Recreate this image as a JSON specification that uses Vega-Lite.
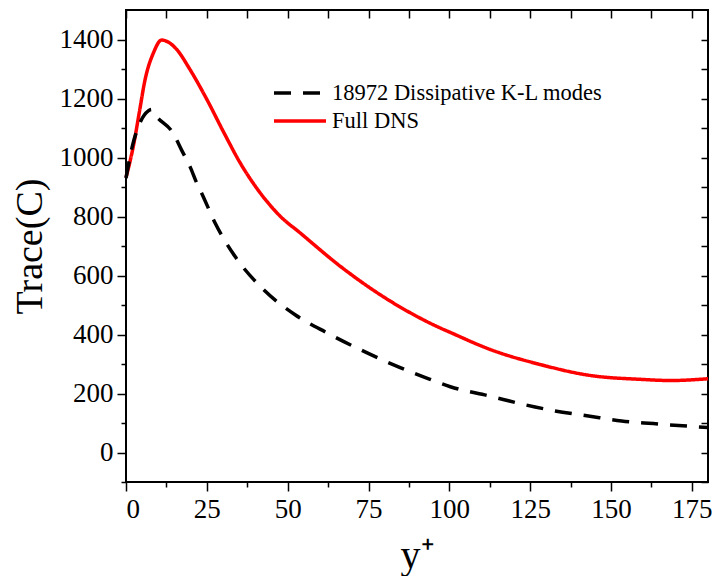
{
  "$schema": "https://vega.github.io/schema/vega-lite/v6.json",
  "width": 582,
  "height": 472,
  "autosize": {"type": "none"},
  "padding": {"left": 126, "top": 10, "right": 4, "bottom": 94},
  "background": "white",
  "config": {
    "view": {"stroke": "black", "strokeWidth": 2},
    "font": "Liberation Serif",
    "axis": {
      "grid": false,
      "domain": false,
      "labelFont": "Liberation Serif",
      "titleFont": "Liberation Serif",
      "labelColor": "black",
      "titleColor": "black",
      "tickColor": "black",
      "tickWidth": 1.5,
      "titleFontWeight": "normal"
    }
  },
  "data": {
    "values": [
      {"series": "Full DNS", "yplus": 0, "trace": 932},
      {"series": "Full DNS", "yplus": 2.3, "trace": 1040},
      {"series": "Full DNS", "yplus": 4.1, "trace": 1152},
      {"series": "Full DNS", "yplus": 5.9, "trace": 1264},
      {"series": "Full DNS", "yplus": 8.5, "trace": 1355},
      {"series": "Full DNS", "yplus": 11, "trace": 1398},
      {"series": "Full DNS", "yplus": 13.1, "trace": 1391},
      {"series": "Full DNS", "yplus": 15.7, "trace": 1366},
      {"series": "Full DNS", "yplus": 19.8, "trace": 1298},
      {"series": "Full DNS", "yplus": 25, "trace": 1197},
      {"series": "Full DNS", "yplus": 30.1, "trace": 1088},
      {"series": "Full DNS", "yplus": 35.3, "trace": 982},
      {"series": "Full DNS", "yplus": 41.5, "trace": 880},
      {"series": "Full DNS", "yplus": 47.7, "trace": 801},
      {"series": "Full DNS", "yplus": 53.9, "trace": 744},
      {"series": "Full DNS", "yplus": 66.3, "trace": 631},
      {"series": "Full DNS", "yplus": 78.6, "trace": 535},
      {"series": "Full DNS", "yplus": 97.2, "trace": 422},
      {"series": "Full DNS", "yplus": 100.3, "trace": 407},
      {"series": "Full DNS", "yplus": 112.7, "trace": 349},
      {"series": "Full DNS", "yplus": 128.2, "trace": 298},
      {"series": "Full DNS", "yplus": 143.7, "trace": 261},
      {"series": "Full DNS", "yplus": 159.1, "trace": 248},
      {"series": "Full DNS", "yplus": 168.4, "trace": 244},
      {"series": "Full DNS", "yplus": 180, "trace": 250},
      {"series": "18972 Dissipative K-L modes", "yplus": 0, "trace": 930},
      {"series": "18972 Dissipative K-L modes", "yplus": 2, "trace": 1040},
      {"series": "18972 Dissipative K-L modes", "yplus": 3.8, "trace": 1104},
      {"series": "18972 Dissipative K-L modes", "yplus": 6.9, "trace": 1158},
      {"series": "18972 Dissipative K-L modes", "yplus": 7.9, "trace": 1163},
      {"series": "18972 Dissipative K-L modes", "yplus": 9, "trace": 1145},
      {"series": "18972 Dissipative K-L modes", "yplus": 14.6, "trace": 1082},
      {"series": "18972 Dissipative K-L modes", "yplus": 17.2, "trace": 1025},
      {"series": "18972 Dissipative K-L modes", "yplus": 19.8, "trace": 969},
      {"series": "18972 Dissipative K-L modes", "yplus": 21.9, "trace": 913},
      {"series": "18972 Dissipative K-L modes", "yplus": 23.4, "trace": 879},
      {"series": "18972 Dissipative K-L modes", "yplus": 27.6, "trace": 777},
      {"series": "18972 Dissipative K-L modes", "yplus": 33.7, "trace": 665},
      {"series": "18972 Dissipative K-L modes", "yplus": 42, "trace": 558},
      {"series": "18972 Dissipative K-L modes", "yplus": 52.3, "trace": 467},
      {"series": "18972 Dissipative K-L modes", "yplus": 62.1, "trace": 406},
      {"series": "18972 Dissipative K-L modes", "yplus": 72.4, "trace": 349},
      {"series": "18972 Dissipative K-L modes", "yplus": 82.6, "trace": 298},
      {"series": "18972 Dissipative K-L modes", "yplus": 92.6, "trace": 254},
      {"series": "18972 Dissipative K-L modes", "yplus": 100.3, "trace": 223},
      {"series": "18972 Dissipative K-L modes", "yplus": 112.6, "trace": 191},
      {"series": "18972 Dissipative K-L modes", "yplus": 122.9, "trace": 163},
      {"series": "18972 Dissipative K-L modes", "yplus": 132.7, "trace": 141},
      {"series": "18972 Dissipative K-L modes", "yplus": 143, "trace": 124},
      {"series": "18972 Dissipative K-L modes", "yplus": 153.3, "trace": 107},
      {"series": "18972 Dissipative K-L modes", "yplus": 163.1, "trace": 98},
      {"series": "18972 Dissipative K-L modes", "yplus": 175.5, "trace": 88},
      {"series": "18972 Dissipative K-L modes", "yplus": 180, "trace": 85}
    ]
  },
  "layer": [
    {
      "mark": {"type": "line", "strokeWidth": 3.5, "interpolate": "monotone"},
      "encoding": {
        "x": {
          "field": "yplus", "type": "quantitative",
          "scale": {"domain": [0, 180], "nice": false, "zero": false},
          "axis": {
            "orient": "bottom",
            "values": [0, 12.5, 25, 37.5, 50, 62.5, 75, 87.5, 100, 112.5, 125, 137.5, 150, 162.5, 175],
            "labelExpr": "datum.value % 25 === 0 ? datum.label : ''",
            "tickSize": {"condition": {"test": "datum.value % 25 === 0", "value": 9}, "value": 5},
            "labelFontSize": 27,
            "labelPadding": 5,
            "title": "y⁺",
            "titleFontSize": 40,
            "titlePadding": 13
          }
        },
        "y": {
          "field": "trace", "type": "quantitative",
          "scale": {"domain": [-100, 1500], "nice": false, "zero": false},
          "axis": {
            "orient": "left",
            "values": [-100, 0, 100, 200, 300, 400, 500, 600, 700, 800, 900, 1000, 1100, 1200, 1300, 1400],
            "labelExpr": "datum.value % 200 === 0 ? datum.label : ''",
            "tickSize": {"condition": {"test": "datum.value % 200 === 0", "value": 9}, "value": 5},
            "labelFontSize": 27,
            "labelPadding": 4,
            "format": "d",
            "title": "Trace(C)",
            "titleFontSize": 38,
            "titlePadding": 10
          }
        },
        "color": {
          "field": "series", "type": "nominal",
          "scale": {"domain": ["18972 Dissipative K-L modes", "Full DNS"], "range": ["#000000", "#ff0000"]},
          "legend": {
            "orient": "none", "legendX": 159, "legendY": 68, "title": null,
            "labelFontSize": 22.5, "labelFont": "Liberation Serif", "labelColor": "black", "labelLimit": 0,
            "symbolType": "M-2,0H2", "symbolSize": 676, "symbolStrokeWidth": 3.5,
            "padding": 0, "rowPadding": 1, "labelOffset": 17
          }
        },
        "strokeDash": {
          "field": "series", "type": "nominal",
          "scale": {"domain": ["18972 Dissipative K-L modes", "Full DNS"], "range": [[17, 12], [1, 0]]},
          "legend": {
            "orient": "none", "legendX": 159, "legendY": 68, "title": null,
            "labelFontSize": 22.5, "labelFont": "Liberation Serif", "labelColor": "black", "labelLimit": 0,
            "symbolType": "M-2,0H2", "symbolSize": 676, "symbolStrokeWidth": 3.5,
            "padding": 0, "rowPadding": 1, "labelOffset": 17
          }
        }
      }
    },
    {
      "mark": {"type": "point", "opacity": 0},
      "encoding": {
        "x": {
          "field": "yplus", "type": "quantitative",
          "scale": {"domain": [0, 180], "nice": false, "zero": false},
          "axis": {
            "orient": "top",
            "values": [0, 12.5, 25, 37.5, 50, 62.5, 75, 87.5, 100, 112.5, 125, 137.5, 150, 162.5, 175],
            "labels": false,
            "tickSize": -8,
            "title": null
          }
        },
        "y": {
          "field": "trace", "type": "quantitative",
          "scale": {"domain": [-100, 1500], "nice": false, "zero": false},
          "axis": {
            "orient": "right",
            "values": [-100, 0, 100, 200, 300, 400, 500, 600, 700, 800, 900, 1000, 1100, 1200, 1300, 1400],
            "labels": false,
            "tickSize": -7,
            "title": null
          }
        }
      }
    }
  ],
  "resolve": {"axis": {"x": "independent", "y": "independent"}}
}
